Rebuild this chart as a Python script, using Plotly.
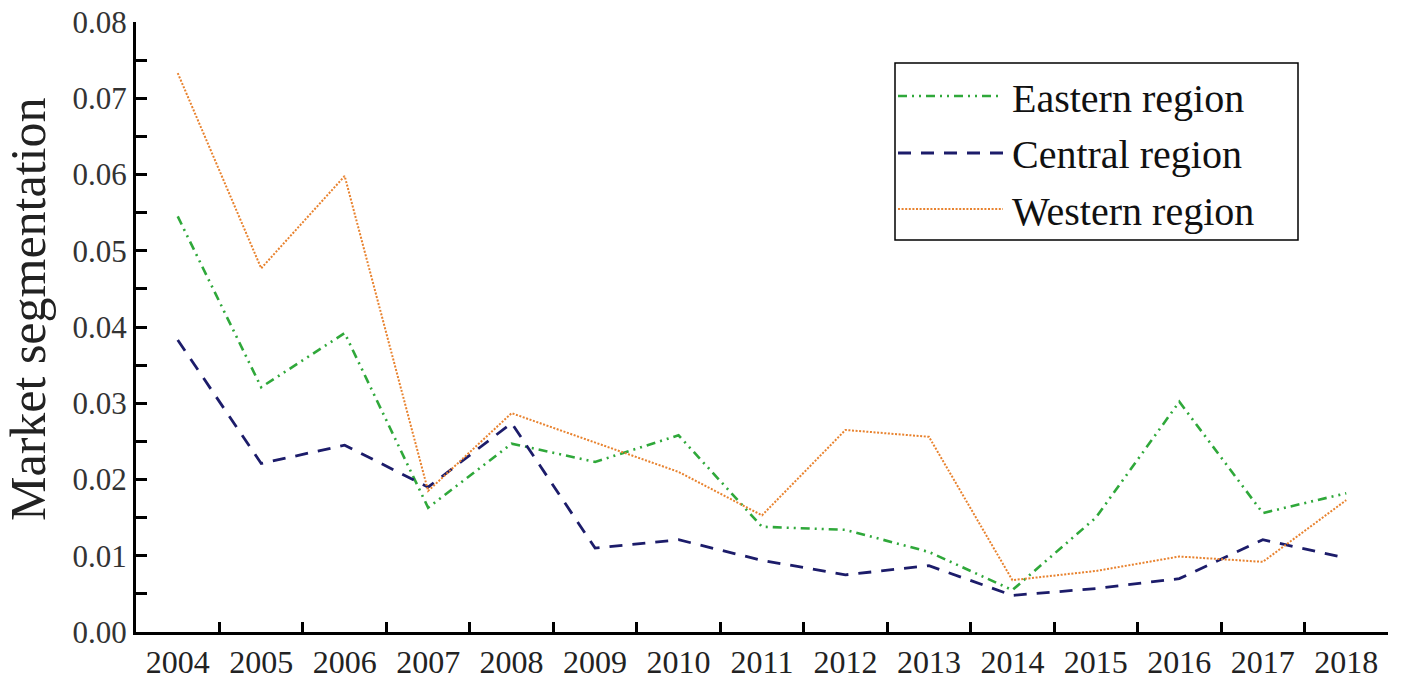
import plotly.graph_objects as go

# Years on the category axis
years = ["2004", "2005", "2006", "2007", "2008", "2009", "2010", "2011",
         "2012", "2013", "2014", "2015", "2016", "2017", "2018"]

# Market segmentation index by region
eastern = [0.0545, 0.0321, 0.0392, 0.0163, 0.0247, 0.0223, 0.0258, 0.0138,
           0.0134, 0.0105, 0.0055, 0.0150, 0.0302, 0.0156, 0.0182]
central = [0.0383, 0.0221, 0.0245, 0.0190, 0.0274, 0.0110, 0.0121, 0.0094,
           0.0075, 0.0087, 0.0048, 0.0057, 0.0070, 0.0121, 0.0097]
western = [0.0733, 0.0477, 0.0598, 0.0185, 0.0287, 0.0248, 0.0210, 0.0153,
           0.0265, 0.0256, 0.0068, 0.0080, 0.0099, 0.0092, 0.0173]

series_names = ["Eastern region", "Central region", "Western region"]
colors = ["#2fa83a", "#1c1c6a", "#e8822e"]
dashes = ["9px,5px,2px,5px,2px,5px", "13px,10px", "2px,1.6px"]
widths = [2.6, 2.8, 2.0]

W, H = 1426, 679
ML, MR, MT, MB = 136, 38, 22, 47
PW, PH = W - ML - MR, H - MT - MB
SERIF = "Liberation Serif"

fig = go.Figure()
for name, vals, c, d, w in zip(series_names, [eastern, central, western],
                               colors, dashes, widths):
    fig.add_trace(go.Scatter(x=years, y=vals, mode="lines", name=name,
                             line=dict(color=c, dash=d, width=w),
                             showlegend=False))


def px_x(px):
    return (px - ML) / PW


def px_y(py):
    return (H - MB - py) / PH


# Boxed legend with long line samples
shapes = [dict(type="rect", xref="paper", yref="paper",
               x0=px_x(895), x1=px_x(1298), y0=px_y(240), y1=px_y(63),
               line=dict(color="black", width=1.5), fillcolor="white",
               layer="above")]
annotations = []
row_y = [96, 153, 209]
for name, c, d, w, ry in zip(series_names, colors, dashes, widths, row_y):
    shapes.append(dict(type="line", xref="paper", yref="paper",
                       x0=px_x(898), x1=px_x(1003), y0=px_y(ry), y1=px_y(ry),
                       line=dict(color=c, dash=d, width=w), layer="above"))
    annotations.append(dict(text=name, xref="paper", yref="paper",
                            x=px_x(1010), y=px_y(ry + 2), xanchor="left",
                            yanchor="middle", showarrow=False,
                            font=dict(family=SERIF, size=40, color="#111")))

annotations.append(dict(text="Market segmentation", xref="paper", yref="paper",
                        x=px_x(28), y=px_y(309), textangle=-90,
                        xanchor="center", yanchor="middle", showarrow=False,
                        font=dict(family=SERIF, size=50, color="#222")))

fig.update_layout(
    width=W, height=H,
    font=dict(family=SERIF, color="#222"),
    margin=dict(l=ML, r=MR, t=MT, b=MB, pad=0, autoexpand=False),
    paper_bgcolor="white", plot_bgcolor="white",
    shapes=shapes, annotations=annotations,
    xaxis=dict(type="category", range=[-0.5, 14.5], tickson="boundaries",
               automargin=False,
               ticks="inside", ticklen=10, tickwidth=3, tickcolor="black",
               showline=True, linewidth=3, linecolor="black",
               showgrid=False, zeroline=False,
               tickfont=dict(family=SERIF, size=32, color="#222")),
    yaxis=dict(range=[0, 0.08], dtick=0.01, tickformat=".2f",
               automargin=False,
               ticks="inside", ticklen=11, tickwidth=3, tickcolor="black",
               showline=True, linewidth=3, linecolor="black",
               showgrid=False, zeroline=False,
               minor=dict(dtick=0.005, ticks="inside", ticklen=11,
                          tickwidth=3, tickcolor="black", showgrid=False),
               tickfont=dict(family=SERIF, size=31, color="#333")),
)

fig.write_html("out.html")
